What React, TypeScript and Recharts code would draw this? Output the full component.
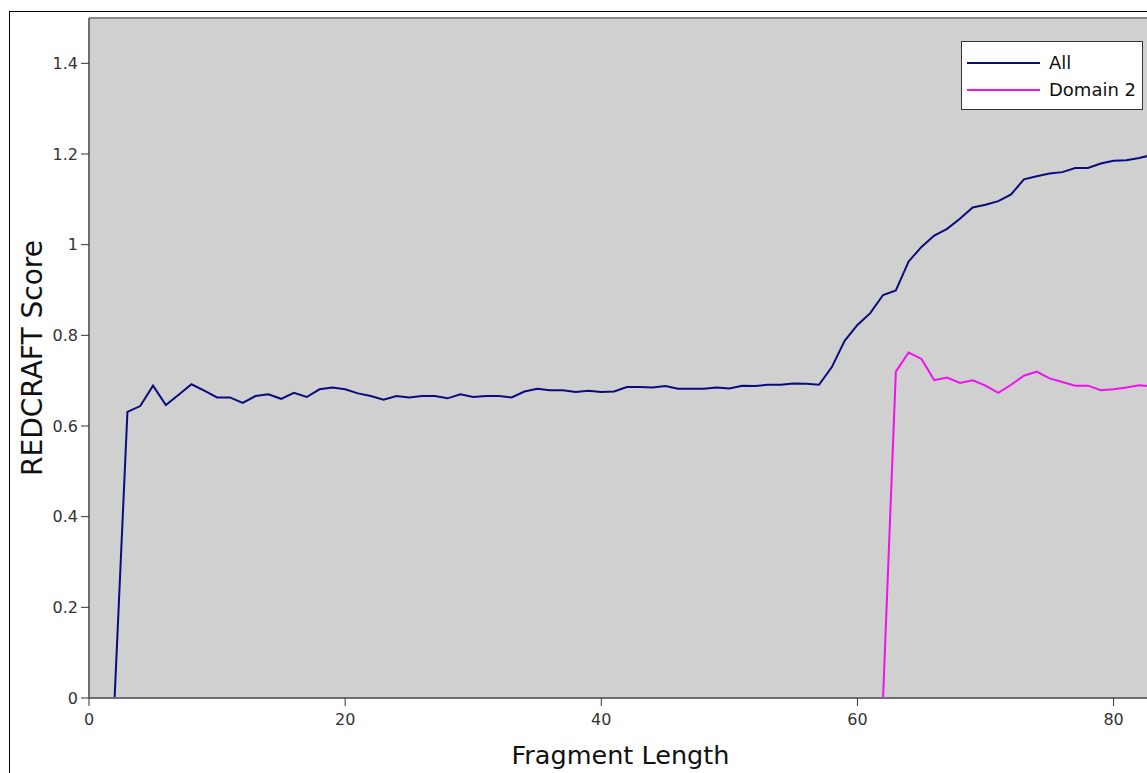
import React from 'react';
import { LineChart, Line, XAxis, YAxis, CartesianGrid, Legend, ReferenceLine } from 'recharts';

const fragmentLengths: number[] = [
  2, 3, 4, 5, 6, 7, 8, 9, 10, 11, 12, 13, 14, 15, 16, 17, 18, 19, 20, 21, 22,
  23, 24, 25, 26, 27, 28, 29, 30, 31, 32, 33, 34, 35, 36, 37, 38, 39, 40, 41,
  42, 43, 44, 45, 46, 47, 48, 49, 50, 51, 52, 53, 54, 55, 56, 57, 58, 59, 60,
  61, 62, 63, 64, 65, 66, 67, 68, 69, 70, 71, 72, 73, 74, 75, 76, 77, 78, 79,
  80, 81, 82, 83,
];

const allScores: number[] = [
  0, 0.631, 0.644, 0.689, 0.646, 0.669, 0.692, 0.678, 0.663, 0.663, 0.651,
  0.666, 0.67, 0.66, 0.673, 0.664, 0.681, 0.685, 0.681, 0.672, 0.666,
  0.658, 0.666, 0.663, 0.666, 0.666, 0.661, 0.67, 0.664, 0.666, 0.666,
  0.663, 0.676, 0.682, 0.679, 0.679, 0.675, 0.678, 0.675, 0.676, 0.686,
  0.686, 0.685, 0.688, 0.682, 0.682, 0.682, 0.685, 0.683, 0.689, 0.688,
  0.691, 0.691, 0.694, 0.693, 0.691, 0.73, 0.788, 0.823, 0.849, 0.889,
  0.899, 0.963, 0.995, 1.02, 1.035, 1.057, 1.082, 1.088, 1.096, 1.111,
  1.144, 1.151, 1.157, 1.16, 1.169, 1.169, 1.179, 1.185, 1.186, 1.191, 1.198,
];

// Domain 2 scores start at fragment length 62
const domain2Start = 62;
const domain2Scores: number[] = [
  0, 0.72, 0.762, 0.748, 0.701, 0.707, 0.695, 0.701, 0.689, 0.673, 0.691,
  0.711, 0.72, 0.705, 0.697, 0.689, 0.689, 0.679, 0.681, 0.685, 0.69, 0.687,
];

const xTicks: number[] = [0, 20, 40, 60, 80];
const yTicks: number[] = [0, 0.2, 0.4, 0.6, 0.8, 1.0, 1.2, 1.4];

const seriesNames = { all: 'All', d2: 'Domain 2' };
const colors = { all: '#0b0b7e', d2: '#f010f0' };

const data = fragmentLengths.map((x, i) => {
  const j = x - domain2Start;
  return {
    x,
    all: allScores[i],
    d2: j >= 0 && j < domain2Scores.length ? domain2Scores[j] : null,
  };
});

const FONT = '"DejaVu Sans", sans-serif';

const LegendBox = () => (
  <div
    style={{
      width: 182,
      height: 69,
      boxSizing: 'border-box',
      border: '1px solid #333',
      background: '#fff',
      paddingTop: 7,
      paddingLeft: 5,
      fontFamily: FONT,
      fontSize: 18,
      color: '#111',
    }}
  >
    {(['all', 'd2'] as const).map((k) => (
      <div key={k} style={{ display: 'flex', alignItems: 'center', height: 27 }}>
        <svg width={73} height={4} style={{ display: 'block' }}>
          <line x1={0} y1={2} x2={73} y2={2} stroke={colors[k]} strokeWidth={2} />
        </svg>
        <span style={{ marginLeft: 9, lineHeight: '27px' }}>{seriesNames[k]}</span>
      </div>
    ))}
  </div>
);

const XLabel = (props: any) => {
  const vb = props.viewBox || {};
  return (
    <text
      x={vb.x + vb.width / 2}
      y={vb.y + 66}
      textAnchor="middle"
      style={{ fontFamily: FONT, fontSize: 25.5, fill: '#111' }}
    >
      Fragment Length
    </text>
  );
};

const YLabel = (props: any) => {
  const vb = props.viewBox || {};
  const x = vb.x + 13;
  const y = vb.y + vb.height / 2;
  return (
    <text
      x={x}
      y={y}
      transform={`rotate(-90 ${x} ${y})`}
      textAnchor="middle"
      style={{ fontFamily: FONT, fontSize: 28, fill: '#111' }}
    >
      REDCRAFT Score
    </text>
  );
};

export default function App() {
  return (
    <div
      style={{
        position: 'absolute',
        left: 0,
        top: 0,
        width: 1147,
        height: 773,
        overflow: 'hidden',
        background: '#fff',
      }}
    >
      <div
        style={{
          position: 'absolute',
          left: 9,
          top: 11,
          width: 1300,
          height: 900,
          border: '1.5px solid #000',
        }}
      />
      <div style={{ position: 'absolute', left: 0, top: 0 }}>
        <LineChart
          width={1200}
          height={870}
          data={data}
          margin={{ top: 18, right: 48, bottom: 23, left: 29 }}
        >
          <CartesianGrid horizontal={false} vertical={false} fill="#d0d0d0" fillOpacity={1} />
          <XAxis
            dataKey="x"
            type="number"
            domain={[0, 83]}
            ticks={xTicks}
            height={80}
            tickSize={8}
            tickMargin={8}
            axisLine={{ stroke: '#6e6e6e', strokeWidth: 2 }}
            tickLine={{ stroke: '#333', strokeWidth: 1 }}
            tick={{ fontFamily: FONT, fontSize: 16, fill: '#333' }}
            label={{ content: XLabel }}
            allowDataOverflow
          />
          <YAxis
            type="number"
            domain={[0, 1.5]}
            ticks={yTicks}
            width={60}
            tickSize={8}
            tickMargin={3}
            tickFormatter={(v: number) => String(Number(v.toFixed(1)))}
            axisLine={{ stroke: '#6e6e6e', strokeWidth: 2 }}
            tickLine={{ stroke: '#333', strokeWidth: 1 }}
            tick={{ fontFamily: FONT, fontSize: 16, fill: '#333' }}
            label={{ content: YLabel }}
            allowDataOverflow
          />
          <ReferenceLine y={1.5} stroke="#8a8a8a" strokeWidth={2} />
          <Line
            type="linear"
            dataKey="all"
            name={seriesNames.all}
            stroke={colors.all}
            strokeWidth={2}
            dot={false}
            activeDot={false}
            isAnimationActive={false}
          />
          <Line
            type="linear"
            dataKey="d2"
            name={seriesNames.d2}
            stroke={colors.d2}
            strokeWidth={2}
            dot={false}
            activeDot={false}
            connectNulls={false}
            isAnimationActive={false}
          />
          <Legend
            content={LegendBox}
            wrapperStyle={{ position: 'absolute', left: 961, top: 41, width: 182, height: 69 }}
          />
        </LineChart>
      </div>
    </div>
  );
}
